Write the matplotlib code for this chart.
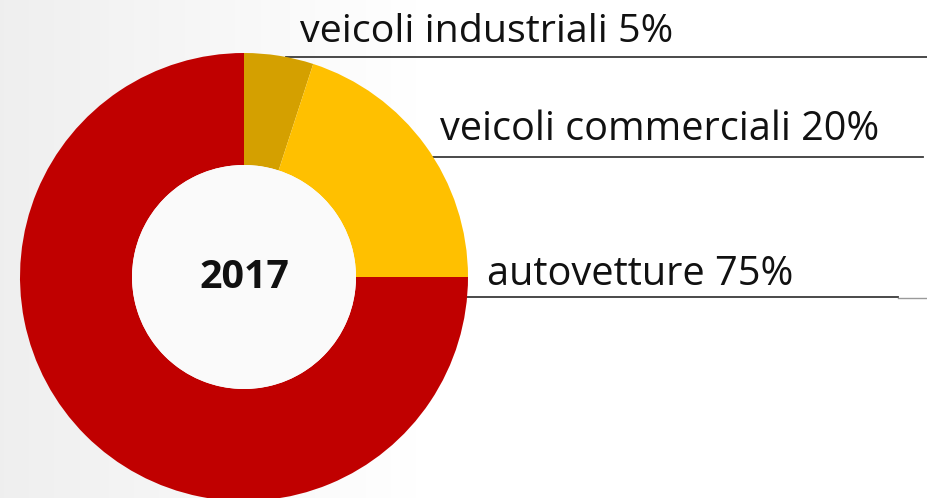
import numpy as np
import matplotlib.pyplot as plt

# data
labels = ['veicoli industriali', 'veicoli commerciali', 'autovetture']
shares = [5, 20, 75]
colors = ['#D4A000', '#FFC000', '#C00000']
year = '2017'

W, H = 927, 498
CX, CY, R = 244, 277, 224  # donut centre / radius in pixels
FONT = 'Open Sans'


def fx(px):
    return px / W


def fy(py):
    return 1 - py / H


def fit_width(txt, target_px, renderer):
    # rescale font so the text spans the same width as in the source slide
    w = txt.get_window_extent(renderer).width
    txt.set_fontsize(txt.get_fontsize() * target_px / w)


fig = plt.figure(figsize=(W / 100, H / 100), dpi=100)
renderer = fig.canvas.get_renderer()

# soft grey-to-white background
bg = fig.add_axes([0, 0, 1, 1])
grad = np.clip(np.linspace(0, 1, 256) / 0.45, 0, 1)
shade = 0.937 + 0.063 * grad
img = np.dstack([shade, shade, shade]).repeat(2, axis=0)
bg.imshow(img, aspect='auto', extent=[0, 1, 0, 1])
bg.set_axis_off()

ax = fig.add_axes([fx(CX - R), fy(CY + R), 2 * R / W, 2 * R / H])
ax.pie(shares, colors=colors, startangle=90, counterclock=False,
       radius=1, wedgeprops=dict(width=0.5, linewidth=0))
ax.add_patch(plt.Circle((0, 0), 0.5, color='#FAFAFA', lw=0))
ax.set_xlim(-1, 1)
ax.set_ylim(-1, 1)
ax.set_axis_off()
t = ax.text(0, 0, year, ha='center', va='center', fontsize=24,
            fontweight='bold', family=FONT, color='#111111')
fit_width(t, 90, renderer)

# labels with leader lines to the right edge
label_pos = [(300, 673, 42, 57, W), (440, 880, 140, 157, 923),
             (487, 795, 285, 297, 898)]
for name, val, (tx, tx_end, ty, ly, lend) in zip(labels, shares, label_pos):
    t = fig.text(fx(tx), fy(ty), f'{name} {val}%', fontsize=26, family=FONT,
                 color='#111111', ha='left', va='baseline')
    fit_width(t, tx_end - tx, renderer)
    dy = ly - CY
    x0 = CX + np.sqrt(max(R ** 2 - dy ** 2, 0))
    bg.plot([fx(x0), fx(lend)], [fy(ly), fy(ly)], color='#3a3a3a', lw=1.3)
bg.plot([fx(898), 1], [fy(298), fy(298)], color='#9a9a9a', lw=1.0)
bg.set_xlim(0, 1)
bg.set_ylim(0, 1)

fig.savefig('out.png', dpi=100)
